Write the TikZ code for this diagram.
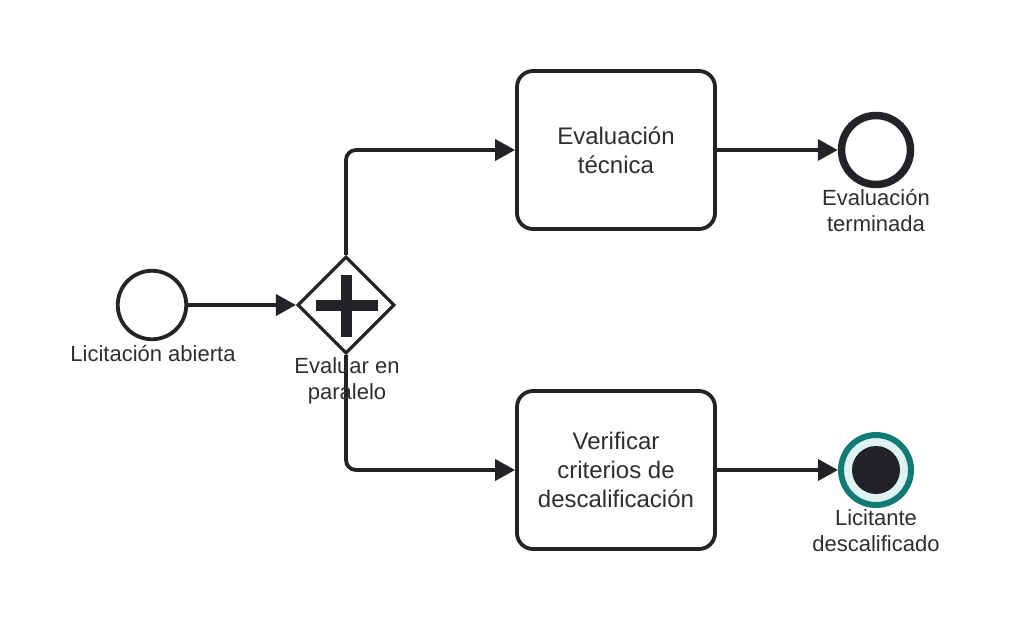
\documentclass[tikz,border=0pt]{standalone}
\usepackage{fontspec}
\setmainfont{Liberation Sans}
\usetikzlibrary{arrows.meta,shapes.geometric}
\definecolor{ink}{HTML}{222326}
\definecolor{txt}{HTML}{2E2E30}
\definecolor{teal}{HTML}{127A74}
\definecolor{tealbg}{HTML}{E0F3F3}
\tikzset{
  flow/.style={draw=ink,line width=3.8pt,rounded corners=10pt,-{Triangle[length=20pt,width=21pt]}},
  taskbox/.style={draw=ink,line width=3.8pt,rounded corners=16pt,minimum width=198pt,minimum height=158pt,align=center,text=txt,font=\fontsize{24}{29}\selectfont,inner sep=0pt},
  evtlabel/.style={align=center,text=txt,font=\fontsize{22}{26}\selectfont,inner sep=0pt},
}
\begin{document}
\begin{tikzpicture}[x=1pt,y=-1pt]
\useasboundingbox (0,0) rectangle (1010,630);
% start event
\node[circle,draw=ink,line width=3.8pt,minimum size=68.5pt,inner sep=0pt] (start) at (152,305) {};
\node[evtlabel] (startlbl) at (153,354) {Licitación abierta};
% gateway
\node[diamond,aspect=1,draw=ink,line width=3.2pt,minimum width=97pt,minimum height=97pt,inner sep=0pt] (gw) at (346,305) {};
\fill[ink] (316,299.5) rectangle (378,310.5);
\fill[ink] (340.5,275) rectangle (351.5,337);
% tasks
\node[taskbox] (t1) at (616,150) {Evaluación\\técnica};
\node[taskbox] (t2) at (616,470) {Verificar\\criterios de\\descalificación};
% end events
\node[circle,draw=ink,line width=7.5pt,minimum size=69pt,inner sep=0pt] (end1) at (876,150) {};
\node[circle,draw=teal,fill=tealbg,line width=6pt,minimum size=70pt,inner sep=0pt] (end2) at (876,470) {};
\node[circle,fill=ink,minimum size=48pt,inner sep=0pt] (end2dot) at (876,470) {};
% connectors
\draw[flow] (start) -- (gw.west);
\draw[flow] (gw.north) |- (t1.west);
\draw[flow] (gw.south) |- (t2.west);
\draw[flow] (t1.east) -- (end1);
\draw[flow] (t2.east) -- (end2);
% labels
\node[evtlabel] (gwlbl) at (347,381) {Evaluar en\\paralelo};
\node[evtlabel] (end1lbl) at (876,211) {Evaluación\\terminada};
\node[evtlabel] (end2lbl) at (876,531) {Licitante\\descalificado};
\end{tikzpicture}
\end{document}
